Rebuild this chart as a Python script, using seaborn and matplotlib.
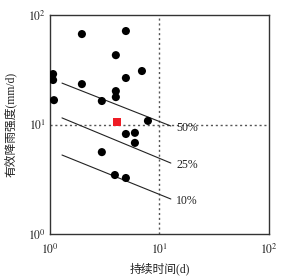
import seaborn as sn
import matplotlib.pyplot as plt
import pandas as pd

# data
durations = [1.07, 1.07, 1.09, 1.96, 4.94, 4.0, 1.96, 4.94, 4.0, 4.0, 2.98, 6.92, 7.85,
             4.94, 5.97, 5.97, 2.98, 3.92, 4.94]
intensities = [28.9, 25.5, 16.7, 67.0, 71.4, 43.0, 23.4, 26.6, 20.2, 17.8, 16.4, 30.8, 10.8,
               8.2, 8.4, 6.8, 5.6, 3.46, 3.25]
red_duration = [4.09]
red_intensity = [10.5]

line_labels = ["50%", "25%", "10%"]
line_x = [1.29, 12.7]
line_y = [[23.9, 9.7], [11.5, 4.45], [5.27, 2.09]]

pts_df = pd.DataFrame({"d": durations, "i": intensities})
red_df = pd.DataFrame({"d": red_duration, "i": red_intensity})

sn.set_style("white")
plt.rcParams["mathtext.fontset"] = "stix"
plt.rcParams["font.family"] = ["Liberation Serif", "Noto Sans CJK SC"]

fig = plt.figure(figsize=(2.85, 2.78), dpi=100)
ax = fig.add_axes([0.175, 0.158, 0.769, 0.788])

ax.set_xscale("log")
ax.set_yscale("log")
ax.set_xlim(1, 100)
ax.set_ylim(1, 100)

# reference dotted lines
ax.axvline(10, color="#555555", linestyle=(0, (1.5, 2)), linewidth=1, zorder=1)
ax.axhline(10, color="#555555", linestyle=(0, (1.5, 2)), linewidth=1, zorder=1)

# frequency lines
for lab, ys in zip(line_labels, line_y):
    ax.plot(line_x, ys, color="#222222", linewidth=0.8, zorder=2)
    ax.text(line_x[1] * 1.12, ys[1] * 0.96, lab, fontsize=8.5, va="center", ha="left",
            color="#222222")

sn.scatterplot(x="d", y="i", data=pts_df, ax=ax, color="black", s=34, edgecolor="none",
               zorder=3, legend=False)
sn.scatterplot(x="d", y="i", data=red_df, ax=ax, color="#ee1c25", marker="s", s=36,
               edgecolor="none", zorder=3, legend=False)

ax.set_xticks([1, 10, 100])
ax.set_yticks([1, 10, 100])
ax.set_xticklabels([r"$10^0$", r"$10^1$", r"$10^2$"])
ax.set_yticklabels([r"$10^0$", r"$10^1$", r"$10^2$"])
ax.minorticks_off()
ax.tick_params(axis="both", length=0, labelsize=8.5, colors="#222222")
ax.tick_params(axis="x", pad=6)
ax.tick_params(axis="y", pad=3)

for sp in ax.spines.values():
    sp.set_color("#333333")
    sp.set_linewidth(1)

ax.set_xlabel("持续时间(d)", fontsize=8.5, color="#222222", labelpad=4)
ax.set_ylabel("有效降雨强度(mm/d)", fontsize=8.5, color="#222222", labelpad=8)

plt.savefig("out.png", dpi=100)
